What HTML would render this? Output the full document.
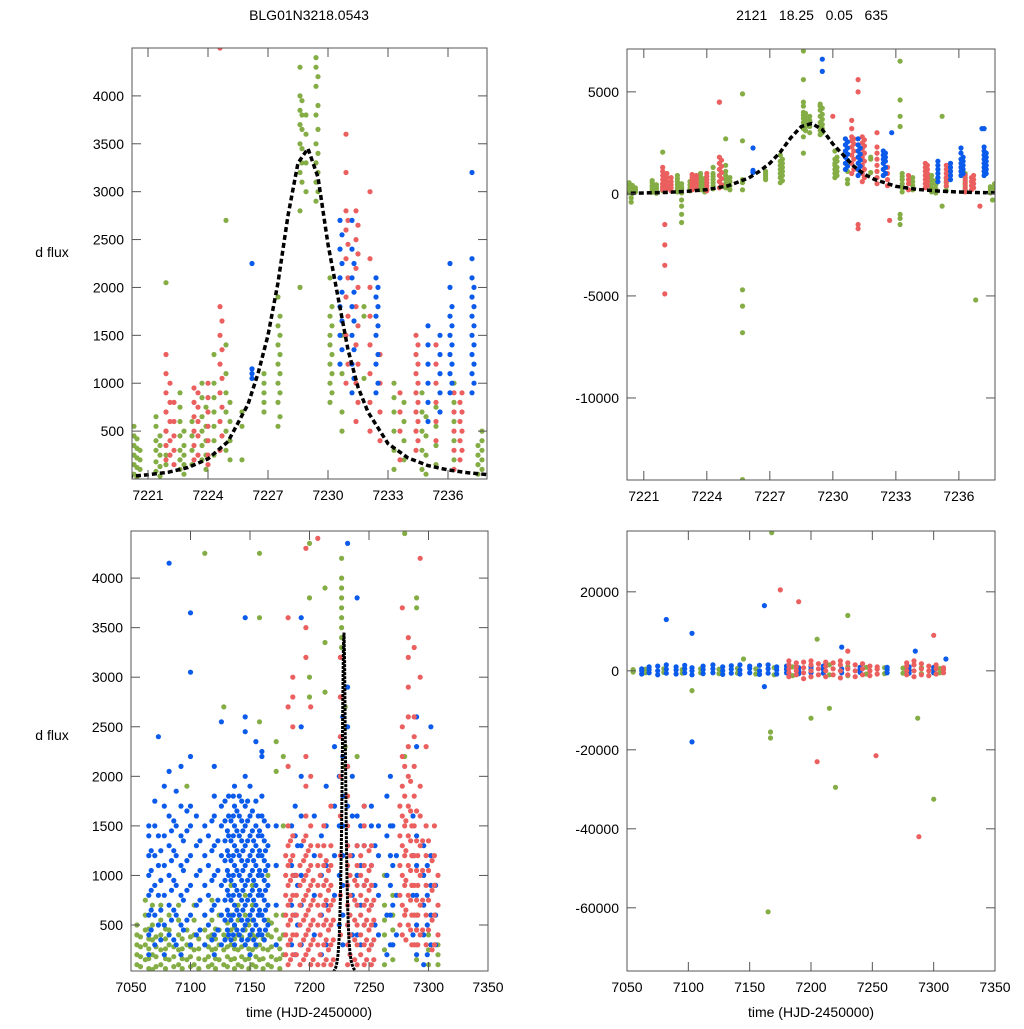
<!DOCTYPE html>
<html><head><meta charset="utf-8"><style>
body{margin:0;background:#fff}
svg text{font-family:"Liberation Sans",sans-serif;font-size:14px;fill:#000}
</style></head><body>
<svg id="chart" width="1024" height="1024" viewBox="0 0 1024 1024" xmlns="http://www.w3.org/2000/svg">
<rect width="1024" height="1024" fill="#fff"/>
<text x="309" y="20" text-anchor="middle">BLG01N3218.0543</text>
<text x="812" y="20" text-anchor="middle" xml:space="preserve">2121   18.25   0.05   635</text>
<text x="52" y="257" text-anchor="middle">d flux</text>
<text x="52" y="740" text-anchor="middle">d flux</text>
<text x="309" y="1017" text-anchor="middle">time (HJD-2450000)</text>
<text x="811" y="1017" text-anchor="middle">time (HJD-2450000)</text>
</svg>
<script>
// ---- data: columns [t, flux values...] ----
const tlGreen=[[7220.3,50,150,250,350,450,550],[7220.6,100,200,300],[7220.45,20,120,220,320,420],[7221.4,80,180,300,400,550,650],[7221.6,30,130,250,350,450],[7221.9,150,250,350,500,2050],[7222.6,100,200,300,450,600,750,900],[7222.8,50,150,250,350,500],[7223.2,150,300,450,600],[7223.7,200,350,500,650,850,1000],[7223.9,100,250,400,550,750],[7224.3,250,400,550,700,850,1000,1300],[7224.9,300,500,700,900,1100,1400,2700],[7225.1,200,400,600,800],[7225.7,200,550,700],[7226.8,700,800,900,1000,1100],[7227.5,550,800,1000,1200,1400,1600,1900],[7227.6,650,900,1100,1300,1500,1700],[7228.6,2000,2800,3200,3500,3700,3850,4000,4300],[7228.7,3100,3300,3450,3650,3800,3950],[7228.9,3000,3300,3600,3800],[7229.4,2900,3100,3300,3500,3800,4100,4300,4400],[7229.5,3000,3200,3400,3650,3900,4200],[7230.1,800,1000,1200,1400,1500,1700,2100],[7230.2,900,1100,1300,1600,1800],[7230.7,500,700,1100,1500],[7231.8,1050,1700,1800],[7233.3,100,300,500,700,850,1000],[7233.8,200,400,600,800],[7234.7,100,300,500,700,900],[7234.9,50,250,450,650],[7235.4,150,350,550,750],[7236.3,200,400,600,800,1000],[7237.7,100,200,300,400,500],[7237.5,50,150,250,350]];
const tlRed=[[7221.9,200,350,500,700,900,1100,1300],[7222.1,250,400,600,800,1000],[7222.3,150,300,450,600,800],[7223.3,200,350,500,650,800,950],[7223.5,250,450,600,750,900],[7224.0,150,250,400,550,700,850,1000],[7224.6,300,600,900,1200,1500,1800,4500],[7224.7,450,750,1050,1350,1650],[7230.9,1000,1500,1900,2300,2600,2800,3200,3600],[7231.0,1200,1700,2100,2450,2700],[7231.4,600,1000,1400,1800,2200,2500,2800],[7231.5,800,1200,1600,2000,2350,2650],[7232.1,500,800,1100,1400,1700,2000,2300,3000],[7232.6,400,700,1000,1300],[7233.6,200,500,700,900],[7234.4,300,500,700,900,1100,1300,1500],[7234.5,400,600,800,1000,1200,1400],[7235.4,400,600,800,1000,1200,1400],[7236.3,100,300,500,700,900],[7236.7,300,500,700,900],[7236.6,200,400,600,800]];
const tlBlue=[[7226.2,1050,1100,1150,2250],[7230.6,1200,1500,1800,2100,2400,2700],[7230.7,1350,1650,1950,2250,2550],[7231.2,900,1200,1500,1800,2100,2400,2700],[7231.3,1050,1350,1650,1950,2250],[7232.4,900,1200,1500,1700,1900,2100],[7232.5,1000,1300,1600,1800,2000],[7235.0,600,800,1000,1200,1400,1600],[7235.6,700,900,1100,1300,1500],[7236.1,900,1100,1300,1500,1700,2000,2250],[7236.2,1000,1200,1400,1600,1800],[7237.2,900,1100,1300,1500,1700,1900,2100,2300,3200],[7237.3,1000,1200,1400,1600,1800,2000]];
const trGreenExtra=[[7220.4,-200,-400,300,100],[7222.8,-300,-600,-1000,-1400],[7225.7,-4700,-5500,-6800,-14000,4900,2600],[7228.6,5600,7000,4500],[7233.2,-1000,-1500,-1200,6500,4600,3800,3300],[7236.8,-5200],[7235.2,3800,-600],[7237.6,-300,300]];
const trRedExtra=[[7222.0,-1500,-2500,-3500,-4900],[7224.6,4500],[7231.2,5600,5000,-1500,-1700],[7232.7,-1300],[7230.0,3800],[7237.0,-600]];
const trBlueExtra=[[7229.5,6000,6600],[7232.8,3000],[7237.1,3200]];
const blBlue=[[7065,200,400,600,800,1000,1200,1400,1500],[7070,300,600,900,1200,1500,1750],[7073,500,800,1100,1400,2400],[7078,200,500,800,1100,1400,1700,1900],[7082,400,700,1000,1300,1600,2050,4150],[7088,300,600,900,1200,1500,1850],[7092,200,500,800,1100,1400,1700,2100],[7100,300,600,900,1200,1500,1700,3050,3650,2200],[7105,400,700,1000,1300,1600],[7112,300,600,900,1200,1500],[7120,200,400,700,1000,1300,1600,1800,2100],[7126,300,600,900,1200,1500,1700,2550],[7132,400,600,800,1000,1200,1400,1600,1800],[7137,300,500,700,900,1100,1300,1500,1700,1900],[7141,400,600,800,1000,1200,1400,1600,1800],[7146,300,500,700,900,1100,1300,1500,1700,2000,2450,2600,3600],[7150,200,400,600,800,1000,1200,1400,1600,1900],[7155,300,500,700,900,1100,1300,1500,1750,2350],[7160,400,600,800,1000,1200,1400,1600,1800,2200,2250],[7165,500,700,900,1100,1300,1500],[7172,300,700,1100,1500],[7188,200,600,1000,1400,1700],[7193,300,700,1000,1300,1600,2000,2500,3600],[7210,200,600,1000,1400],[7221,800,1200,1700,2300],[7228,300,600,900,1200,1500,1800,2200,2600],[7232,500,900,1300,1700,2100,2500,2900,4350],[7240,400,700,1000,1300,1600,3800],[7246,500,900,1300,1700],[7252,300,700,1100,1500,1700],[7258,400,800,1200,1500],[7268,300,600,900,1200,1500,2000],[7273,400,800,1200],[7290,200,500,800,1100,1400,2600,2300],[7296,100,400,700,1000,1300],[7302,300,600,900,1200,2500]];
const blBlue2=[[7067,450,650,850,1050,1250],[7075,350,650,950,1250],[7084,550,850,1150,1450],[7086,350,650,950,1250,1550],[7094,450,750,1050,1350],[7097,550,850,1150,1450,1650],[7108,450,750,1050,1350],[7115,500,800,1100,1400],[7118,350,650,950,1250,1550],[7123,450,750,1050,1350],[7129,350,550,750,950,1150,1350,1550,1750],[7131,450,650,850,1050,1250,1450],[7134,350,550,750,950,1150,1350,1550],[7136,400,600,800,1000,1200,1400,1600,1800],[7139,450,650,850,1050,1250,1450,1650],[7143,350,550,750,950,1150,1350,1550,1750],[7144,450,650,850,1050,1250,1450],[7148,350,550,750,950,1150,1350,1550,1750],[7152,450,650,850,1050,1250,1450,1650],[7153,350,550,750,950,1150,1350],[7157,400,600,800,1000,1200,1400,1600],[7158,450,650,850,1050,1250,1450],[7162,350,550,750,950,1150,1350,1550],[7163,450,650,850,1050,1250],[7185,300,700,1100,1500],[7190,500,900,1300],[7204,400,800,1200,1600],[7214,300,700,1100,1500,1900],[7225,500,1000,1500,2000],[7236,400,800,1200,1600,2000],[7243,300,700,1100,1500],[7255,500,900,1300],[7265,200,600,1000,1400,1800],[7270,300,700,1100,1500],[7287,400,800,1200,1600],[7299,200,500,800,1100],[7306,300,600,900]];
const blRed=[[7182,100,300,500,700,900,1100,1300,1500,2100,2700,3600],[7186,200,400,600,800,1000,1200,1400,2500,2800,3000],[7192,100,300,500,700,900,1100],[7197,200,400,600,800,1000,1200,1400,1600,1900,2200,3200,3500,4300],[7201,100,300,500,700,900,1100,1300,1500,2000,2700],[7207,100,300,500,700,900,1100,1300,4400],[7212,100,300,500,700,900,1100,1300,1500],[7218,100,300,500,700,900,1100,1300,1700],[7226,400,800,1200,1600,2000,2400,2800,3200],[7232,100,300,500,700,900,1100,1300,1500,1800,2100],[7240,100,300,500,700,900,1100,1300],[7246,100,300,500,700,900,1100,1300,1500,1700],[7252,100,300,500,700,900,1100,1300],[7278,400,700,1000,1300,1600,1900,2200,2500,3700],[7283,500,800,1100,1400,1700,2000,2300,2600,2900,3200,3400],[7288,300,600,900,1200,1500,1800,2100,2400,2600,3300],[7293,400,700,1000,1300,1600,1900,4200,3000],[7298,300,600,900,1200,1500,2300],[7305,300,600,900,1200,1500]];
const blRed2=[[7180,200,400,600,800,1000,1200],[7184,150,350,550,750,950,1150,1350],[7189,200,400,600,800,1000],[7195,150,350,550,750,950,1150,1350],[7199,250,450,650,850,1050,1250],[7203,150,350,550,750,950],[7209,200,400,600,800,1000,1200],[7214,150,350,550,750,950,1150],[7216,250,450,650,850,1050],[7220,150,350,550,750],[7234,200,400,600,800,1000,1200],[7238,150,350,550,750,950],[7243,200,400,600,800,1000,1200],[7248,150,350,550,750,950],[7250,250,450,650,850,1050,1250],[7254,150,350,550,750],[7276,500,800,1100,1400,1700],[7280,600,900,1200,1500,1800,2100],[7281,350,650,950,1250,1550],[7285,450,750,1050,1350,1650,1950],[7286,300,600,900,1200,1500],[7290,450,750,1050,1350,1650],[7291,300,600,900,1200],[7295,450,750,1050,1350],[7300,450,750,1050,1350],[7303,250,550,850,1150],[7308,400,700,1000]];
const blGreen=[[7055,100,200,300,400,500],[7062,150,300,450,600,750],[7068,50,200,350,500,700],[7075,100,250,400,550,700],[7082,150,300,450,600],[7090,100,250,400,550,700],[7097,150,300,450,1900],[7103,100,250,400,550,700],[7112,150,300,450,600,4250],[7118,100,250,400,550,750],[7124,150,300,450,600],[7128,100,250,400,2700],[7134,150,300,450,600,750,900],[7140,100,250,400,550,700],[7146,150,300,450,600,800],[7152,100,250,400,550,700,900],[7158,150,300,450,600,4250,3600,2550],[7165,100,250,400,550,700,1000],[7172,150,300,450,600,1100,2050,2350],[7178,200,400,600,1500,2200],[7200,2800,3000,3800,4350],[7227,4200,4000,3900,3800,3700,3600,3500,3400,3300],[7230,2700,2500,2300,2100],[7213,3900,3350,2850],[7240,1000,2200],[7263,100,250,400,550,700,1000],[7270,150,300,450,600,800],[7280,4450,2200],[7290,3800,3700,150,300,450,600],[7300,100,250,400],[7308,100,200,300]];
const blGreen2=[[7058,80,180,280,380],[7065,60,160,260,360,460],[7071,80,180,280,380],[7079,60,160,260,360,460],[7086,80,180,280],[7093,60,160,260,360],[7100,80,180,280,380],[7107,60,160,260,360],[7115,80,180,280,380],[7121,60,160,260,360,460],[7131,80,180,280,380,520],[7137,60,160,260,360,480],[7143,80,180,280,380],[7149,60,160,260,360,500],[7155,80,180,280,380],[7161,60,160,260,360],[7168,80,180,280,380,520],[7175,60,160,260,360]];
const brBlue=[[7062,-800,0,500],[7068,-500,300,1000],[7075,-1000,0,1200],[7082,-600,400,1500,13000],[7090,-800,200,1000],[7097,-500,500,1400],[7103,-1000,0,800,9500,-18000],[7112,-700,300,1200],[7120,-500,500,1500],[7128,-900,0,1000],[7135,-600,400,1300],[7142,-800,200,1500],[7150,-500,600,1200],[7158,-900,0,1400],[7162,16500,-4000],[7165,-600,500,1500],[7172,-800,200,1000],[7180,-500,400,1200],[7190,-700,0,800],[7200,-500,300,1000],[7210,-600,400,1200],[7225,-500,500,6000],[7240,-400,300,900],[7262,-500,300,900],[7280,-600,200,1000],[7285,5000],[7300,-500,300,900],[7310,3000]];
const brRed=[[7182,-1500,-500,500,1500,2500],[7188,-1000,0,1000,2000],[7194,-2000,-500,800,2200],[7200,-1500,0,1500,2500],[7206,-1000,500,1800],[7212,-1500,0,1200,2200],[7218,-1000,500,2000],[7224,-1800,0,1500,2500],[7230,-1000,500,2000,5000],[7236,-1500,0,1500],[7242,-1000,500,1800],[7248,-1200,0,1200],[7254,-800,400,1000],[7278,-1000,0,1200,2000],[7284,-1500,0,1500,2500],[7290,-1000,500,1800],[7296,-1200,0,1200],[7302,-800,500,1500],[7308,-500,300,800],[7175,20500],[7190,17500],[7205,-23000],[7253,-21500],[7288,-42000],[7300,9000]];
const brGreen=[[7055,-300,300],[7065,-500,400],[7080,-400,500],[7095,-600,300],[7110,-500,500],[7125,-700,400],[7140,-600,600],[7155,-800,500],[7170,-1000,800],[7185,-1200,1000],[7200,-1500,1200],[7215,-1000,1500],[7230,-1200,1000],[7245,-800,900],[7260,-700,800],[7275,-600,700],[7290,-700,800],[7305,-500,600],[7165,-61000],[7130,-77000],[7168,35000],[7167,-15500,-17000],[7145,3000],[7215,-9500],[7220,-29500],[7205,8000],[7230,14000],[7300,-32500],[7287,-12000],[7103,-5000],[7200,-12000]];
// model curve
const modelT=[7220,7221,7222,7223,7224,7225,7226,7226.5,7227,7227.5,7228,7228.5,7229,7229.5,7230,7230.5,7231,7231.5,7232,7233,7234,7235,7236,7237,7238];
const modelF=[25,45,70,120,210,390,780,1100,1500,2050,2750,3300,3450,3150,2450,1900,1350,960,700,370,220,140,95,65,45];
// tick labels
const tlYTicks=[500,1000,1500,2000,2500,3000,3500,4000];
const trYTicks=[5000,0,-5000,-10000];
const brYTicks=[20000,0,-20000,-40000,-60000];
const topXTicks=[7221,7224,7227,7230,7233,7236];
const botXTicks=[7050,7100,7150,7200,7250,7300,7350];

const svg=document.getElementById('chart');
const NS='http://www.w3.org/2000/svg';
const COL={g:'#84ad45',r:'#eb5f5f',b:'#0a5aeb'};
function mk(tag,attrs,parent){const e=document.createElementNS(NS,tag);for(const k in attrs)e.setAttribute(k,attrs[k]);(parent||svg).appendChild(e);return e;}
function panel(id,L,R,T,B,x0,x1,y0,y1,xt,yt,series,model){
  const sx=t=>L+(t-x0)/(x1-x0)*(R-L), sy=f=>B-(f-y0)/(y1-y0)*(B-T);
  const cp=mk('clipPath',{id:'c'+id});mk('rect',{x:L,y:T,width:R-L,height:B-T},cp);
  const g=mk('g',{'clip-path':'url(#c'+id+')'});
  
  
  series.forEach(s=>{s.data.forEach(col=>{for(let i=1;i<col.length;i++){
    const c=mk('circle',{cx:sx(col[0]).toFixed(1),cy:sy(col[i]).toFixed(1),r:2.6,fill:COL[s.c]},g);
    
    }});});
  if(model){const d=modelT.map((t,i)=>(i?'L':'M')+sx(t).toFixed(1)+' '+sy(modelF[i]*model.s).toFixed(1)).join(' ');
    const p=mk('path',{d:d,fill:'none',stroke:'#000','stroke-width':model.w,'stroke-dasharray':model.dash},g);
    
    }
  const fr=mk('rect',{x:L,y:T,width:R-L,height:B-T,fill:'none',stroke:'#555','stroke-width':1});
  
  
  xt.forEach(v=>{const x=sx(v);mk('line',{x1:x,x2:x,y1:B,y2:B-9,stroke:'#555'});mk('line',{x1:x,x2:x,y1:T,y2:T+9,stroke:'#555'});
    const tx=mk('text',{x:x,y:B+21,'text-anchor':'middle'});tx.textContent=v;
    
    });
  yt.forEach(v=>{const y=sy(v);mk('line',{x1:L,x2:L+9,y1:y,y2:y,stroke:'#555'});mk('line',{x1:R,x2:R-9,y1:y,y2:y,stroke:'#555'});
    const tx=mk('text',{x:L-8,y:y+5,'text-anchor':'end'});tx.textContent=v;
    
    });
}
panel('top-left',132,487,48,479,7220.2,7237.95,0,4500,topXTicks,tlYTicks,
  [{c:'g',data:tlGreen},{c:'r',data:tlRed},{c:'b',data:tlBlue}],{s:1,w:3.5,dash:'5 3'});
panel('top-right',627,995,49,480,7220.2,7237.72,-14020,7100,topXTicks,trYTicks,
  [{c:'g',data:tlGreen.concat(trGreenExtra)},{c:'r',data:tlRed.concat(trRedExtra)},{c:'b',data:tlBlue.concat(trBlueExtra)}],{s:1,w:3.5,dash:'5 3'});
panel('bottom-left',131,488,531,971,7050,7350,36,4475,botXTicks,tlYTicks,
  [{c:'g',data:blGreen.concat(blGreen2)},{c:'b',data:blBlue.concat(blBlue2)},{c:'r',data:blRed.concat(blRed2)}],{s:1,w:3,dash:'3 1'});
panel('bottom-right',627,995,531,971,7050,7350,-76000,35400,botXTicks,brYTicks,
  [{c:'g',data:brGreen},{c:'b',data:brBlue},{c:'r',data:brRed}],null);
</script>
</body></html>
